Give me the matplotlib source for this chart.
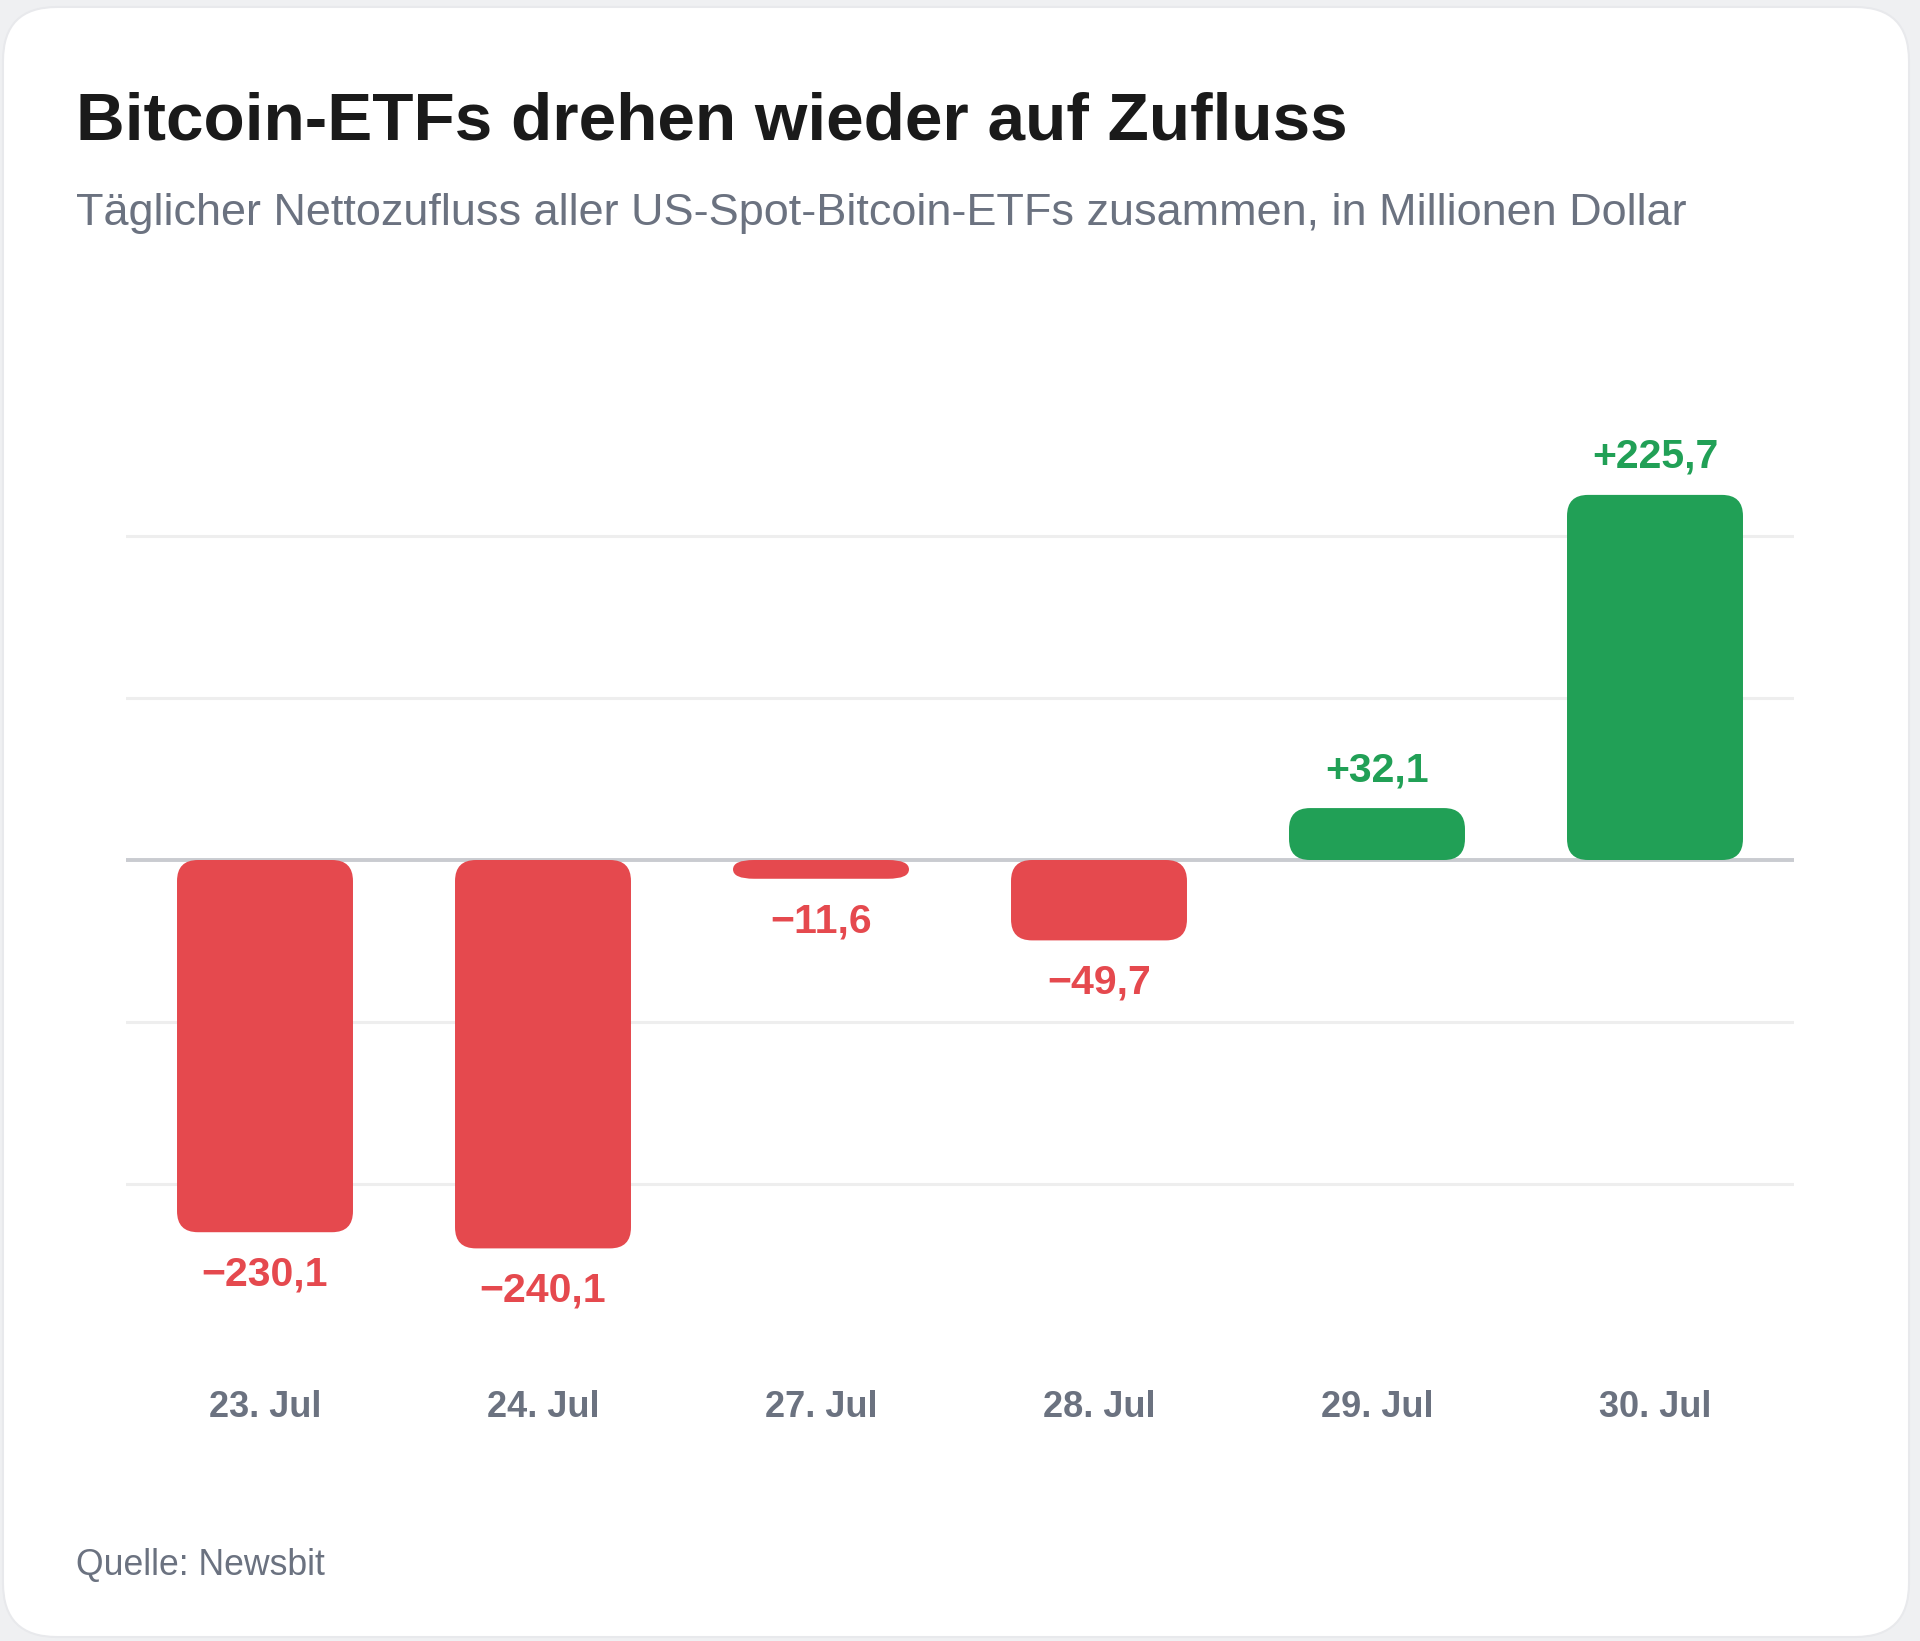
import matplotlib
matplotlib.use("Agg")
import matplotlib.pyplot as plt
from matplotlib.patches import FancyBboxPatch

plt.rcParams['font.family'] = ['Liberation Sans', 'DejaVu Sans']

# Daten: täglicher Nettozufluss (Mio. USD)
dates = ['23. Jul', '24. Jul', '27. Jul', '28. Jul', '29. Jul', '30. Jul']
flows = [-230.1, -240.1, -11.6, -49.7, 32.1, 225.7]
value_labels = ['\u2212230,1', '\u2212240,1', '\u221211,6', '\u221249,7', '+32,1', '+225,7']
grid_values = [-200, -100, 100, 200]

red = '#E5494E'
green = '#21A056'
grey_text = '#6B7280'

W, H = 1920, 1641
fig = plt.figure(figsize=(W / 100, H / 100), dpi=100)
fig.patch.set_facecolor('#EFF0F2')

# card background
card = FancyBboxPatch((3 / W, 4 / H), 1906 / W, 1630 / H,
                      boxstyle="round,pad=0,rounding_size=0.028", mutation_aspect=W / H,
                      transform=fig.transFigure, facecolor='white', edgecolor='#E8E9EC',
                      linewidth=1.5, zorder=-10)
fig.patches.append(card)

# titles
fig.text(76 / W, 1 - 140 / H, 'Bitcoin-ETFs drehen wieder auf Zufluss', fontsize=48.6,
         fontweight='bold', color='#1A1A1A', va='baseline', ha='left')
fig.text(76 / W, 1 - 225 / H, 'Täglicher Nettozufluss aller US-Spot-Bitcoin-ETFs zusammen, in Millionen Dollar',
         fontsize=32.4, color=grey_text, va='baseline', ha='left')
fig.text(76 / W, 1 - 1575 / H, 'Quelle: Newsbit', fontsize=25.7, color=grey_text,
         va='baseline', ha='left')

# axes
ax_left, ax_right, ax_top, ax_bottom = 126, 1794, 420, 1300
ax = fig.add_axes([ax_left / W, 1 - ax_bottom / H, (ax_right - ax_left) / W, (ax_bottom - ax_top) / H])
ax.set_zorder(5)
ax.set_facecolor('none')
ax.set_xlim(-0.5, len(dates) - 0.5)
ax.set_ylim(-272, 272)
for s in ax.spines.values():
    s.set_visible(False)

for g in grid_values:
    ax.axhline(g, color='#EEEEEE', linewidth=2.2, zorder=1)
ax.axhline(0, color='#C9CBD0', linewidth=2.8, zorder=1)

px_x = (ax_right - ax_left) / len(dates)
px_y = (ax_bottom - ax_top) / 544
bar_w = 0.633

for i, v in enumerate(flows):
    color = green if v > 0 else red
    h = abs(v)
    rx = 21 / px_x
    ry = min(21, h * px_y / 2) / px_y
    bar = FancyBboxPatch((i - bar_w / 2, min(0, v)), bar_w, h,
                         boxstyle=f"round,pad=0,rounding_size={rx}", mutation_aspect=ry / rx,
                         facecolor=color, edgecolor='none', zorder=2)
    ax.add_patch(bar)
    off = 19.4 if v > 0 else -38.5
    ax.annotate(value_labels[i], xy=(i, v), xytext=(0, off), textcoords='offset points',
                ha='center', va='baseline', fontsize=29.5, fontweight='bold', color=color)

ax.set_yticks([])
ax.set_xticks(range(len(dates)))
ax.set_xticklabels(dates, fontsize=26, fontweight='bold', color=grey_text)
ax.tick_params(axis='x', length=0, pad=65)

plt.savefig('out.png', dpi=100, facecolor=fig.get_facecolor())
plt.close()
